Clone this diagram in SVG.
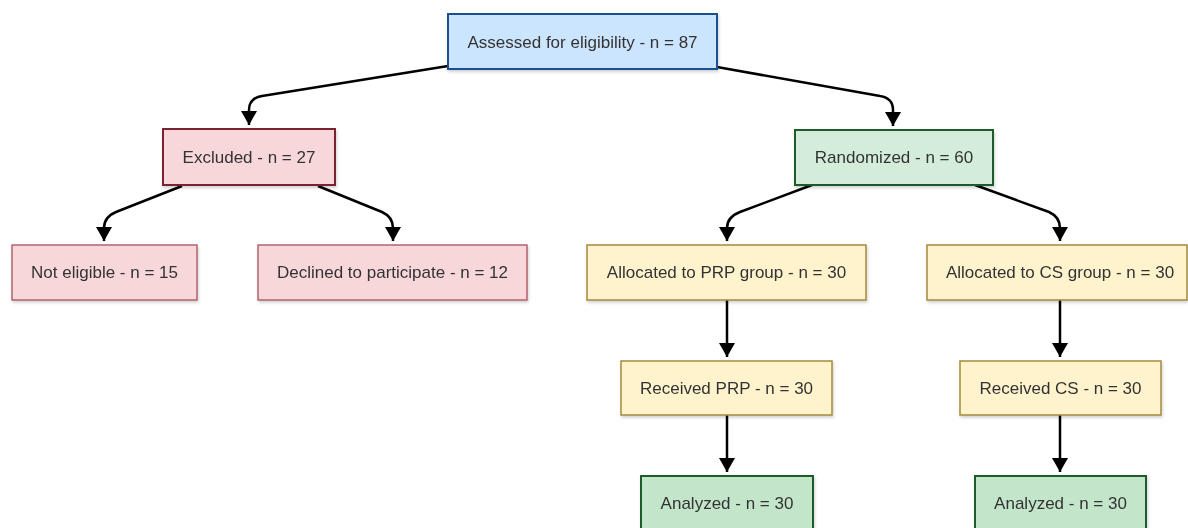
<svg xmlns="http://www.w3.org/2000/svg" width="1188" height="528" viewBox="0 0 1188 528">
  <defs>
    <marker id="arrow" viewBox="0 0 14 16" refX="14" refY="8" markerWidth="14" markerHeight="16" markerUnits="userSpaceOnUse" orient="auto">
      <path d="M0,0 L14,8 L0,16 Z" fill="#000"/>
    </marker>
    <filter id="shadow" x="-10%" y="-20%" width="120%" height="150%">
      <feDropShadow dx="1" dy="2" stdDeviation="1.5" flood-color="#000" flood-opacity="0.18"/>
    </filter>
  </defs>
  <style>
    .box { filter: url(#shadow); }
    .blue { fill: #cce5ff; stroke: #1f4f8f; stroke-width: 2; }
    .red-main { fill: #f8d7da; stroke: #7a2230; stroke-width: 2; }
    .red { fill: #f8d7da; stroke: #a8505c; stroke-width: 1.3; }
    .green-main { fill: #d4edda; stroke: #1e5c2a; stroke-width: 2; }
    .green { fill: #c3e6cb; stroke: #1e5c2a; stroke-width: 2; }
    .yellow { fill: #fff3cd; stroke: #a58a3a; stroke-width: 1.5; }
    .label { font-family: "Liberation Sans", Arial, sans-serif; font-size: 17px; fill: #333; text-anchor: middle; dominant-baseline: central; }
    .edge { fill: none; stroke: #000; stroke-width: 2.5; marker-end: url(#arrow); }
  </style>
  <rect width="1188" height="528" fill="#fff"/>

  <!-- connectors -->
  <g id="connectors">
    <path class="edge" d="M448,66 L262,96 Q249,98 249,110 L249,125"/>
    <path class="edge" d="M717,67 L880,96 Q893,98 893,110 L893,126"/>
    <path class="edge" d="M182,186 L116,212 Q104,217 104,228 L104,241"/>
    <path class="edge" d="M318,186 L382,212 Q393,217 393,228 L393,241"/>
    <path class="edge" d="M812,185 L740,212 Q727,217 727,228 L727,241"/>
    <path class="edge" d="M975,185 L1049,212 Q1060,217 1060,228 L1060,241"/>
    <path class="edge" d="M727,300 L727,357"/>
    <path class="edge" d="M727,415 L727,472"/>
    <path class="edge" d="M1060,300 L1060,357"/>
    <path class="edge" d="M1060,415 L1060,472"/>
  </g>

  <g id="assessed" class="box">
    <rect class="blue" x="448" y="14" width="269" height="55"/>
    <text class="label" x="582.5" y="42">Assessed for eligibility - n = 87</text>
  </g>
  <g id="excluded" class="box">
    <rect class="red-main" x="163" y="129" width="172" height="56"/>
    <text class="label" x="249" y="157">Excluded - n = 27</text>
  </g>
  <g id="randomized" class="box">
    <rect class="green-main" x="795" y="130" width="198" height="55"/>
    <text class="label" x="894" y="157">Randomized - n = 60</text>
  </g>
  <g id="not-eligible" class="box">
    <rect class="red" x="12" y="245" width="185" height="55"/>
    <text class="label" x="104.5" y="272">Not eligible - n = 15</text>
  </g>
  <g id="declined" class="box">
    <rect class="red" x="258" y="245" width="269" height="55"/>
    <text class="label" x="392.5" y="272">Declined to participate - n = 12</text>
  </g>
  <g id="alloc-prp" class="box">
    <rect class="yellow" x="587" y="245" width="279" height="55"/>
    <text class="label" x="726.5" y="272">Allocated to PRP group - n = 30</text>
  </g>
  <g id="alloc-cs" class="box">
    <rect class="yellow" x="927" y="245" width="260" height="55"/>
    <text class="label" x="1060" y="272">Allocated to CS group - n = 30</text>
  </g>
  <g id="received-prp" class="box">
    <rect class="yellow" x="621" y="361" width="211" height="54"/>
    <text class="label" x="726.5" y="388">Received PRP - n = 30</text>
  </g>
  <g id="received-cs" class="box">
    <rect class="yellow" x="960" y="361" width="201" height="54"/>
    <text class="label" x="1060.5" y="388">Received CS - n = 30</text>
  </g>
  <g id="analyzed-prp" class="box">
    <rect class="green" x="641" y="476" width="172" height="60"/>
    <text class="label" x="727" y="503">Analyzed - n = 30</text>
  </g>
  <g id="analyzed-cs" class="box">
    <rect class="green" x="975" y="476" width="171" height="60"/>
    <text class="label" x="1060.5" y="503">Analyzed - n = 30</text>
  </g>
</svg>
